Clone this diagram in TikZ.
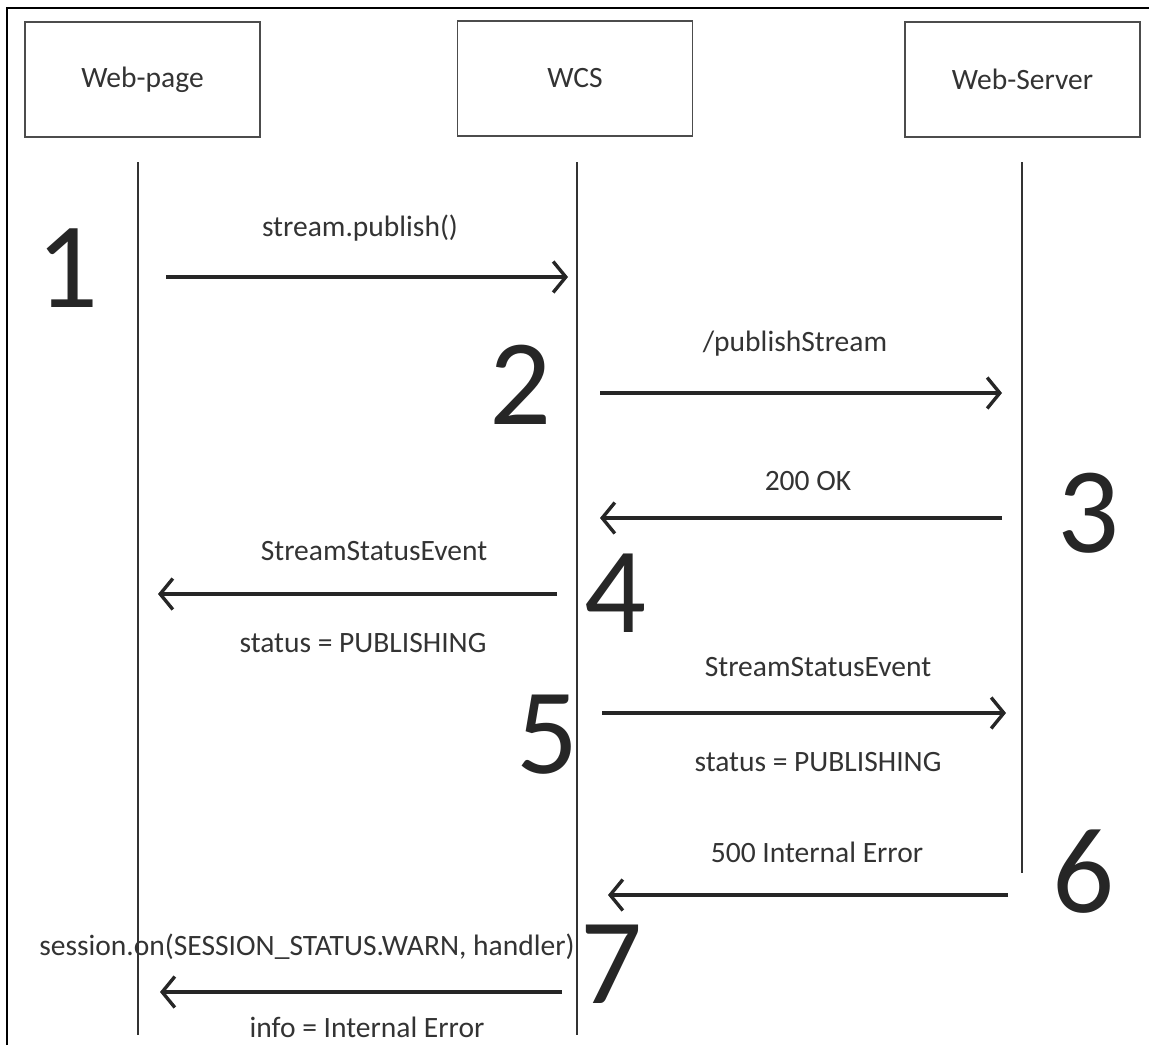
\documentclass[tikz,border=0pt]{standalone}
\usepackage{fontspec}
\setmainfont{Carlito}
\usetikzlibrary{arrows.meta}
\begin{document}
\begin{tikzpicture}[x=.025cm,y=-.025cm,
  actor/.style={draw=black!70,line width=1.2pt,minimum width=5.875cm,
    minimum height=2.875cm,font=\fontsize{21}{24}\selectfont,text=black!80},
  msg/.style={line width=2.4pt,black!85,
    -{Straight Barb[length=9pt,width=22pt,line width=2.4pt]}},
  lbl/.style={font=\fontsize{21}{24}\selectfont,text=black!80},
  num/.style={font=\fontsize{87}{87}\selectfont,text=black!85}]
  \useasboundingbox (0,0) rectangle (1149,1045);
  \draw[line width=2pt] (7,1045)--(7,8)--(1149,8);
  \node[actor] (page) at (142.5,79.5) {Web-page};
  \node[actor] (wcs) at (575,78.5) {WCS};
  \node[actor] (server) at (1022.5,79.5) {Web-Server};
  \foreach \n/\x/\b in {page/138/1035,wcs/577/1035,server/1022/873} {
    \coordinate (\n-top) at (\x,162);
    \coordinate (\n-bot) at (\x,\b);
    \draw[line width=1pt,black!80] (\n-top)--(\n-bot);
  }
  \foreach \i/\xa/\xb/\y in {1/166/568/277,2/600/1002/393,3/1002/600/518,
    4/557/158/594,5/602/1006/713,6/1008/608/895,7/562/160/992} {
    \coordinate (m\i-from) at (\xa,\y);
    \coordinate (m\i-to) at (\xb,\y);
    \draw[msg] (m\i-from)--(m\i-to);
  }
  \foreach \i/\x/\y in {1/68/268,2/520/385,3/1088/513,4/615/593,5/547/735,
    6/1083/872,7/611/964} \node[num] (n\i) at (\x,\y) {\i};
  \node[lbl] (l1) at (360,228) {stream.publish()};
  \node[lbl] (l2) at (795,344) {/publishStream};
  \node[lbl] (l3) at (808,481) {200 OK};
  \node[lbl] (l4a) at (374,551) {StreamStatusEvent};
  \node[lbl] (l4b) at (363,643) {status = PUBLISHING};
  \node[lbl] (l5a) at (818,667) {StreamStatusEvent};
  \node[lbl] (l5b) at (818,762) {status = PUBLISHING};
  \node[lbl] (l6) at (817,852) {500 Internal Error};
  \node[lbl] (l7a) at (307,947) {session.on(SESSION\_STATUS.WARN, handler)};
  \node[lbl] (l7b) at (367,1027) {info = Internal Error};
\end{tikzpicture}
\end{document}
